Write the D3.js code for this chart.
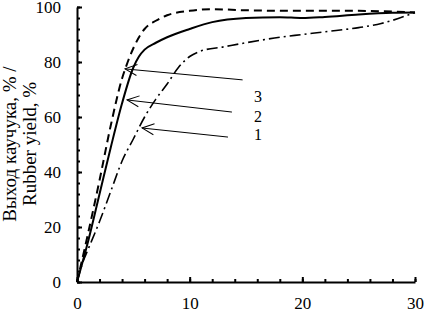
<!DOCTYPE html>
<meta charset="utf-8">
<head>
	<title>Rubber yield</title>
</head>

<style>

body{
	margin: 0;
	background: #fff;
}

svg{
	display: block;
}

</style>

<body>

<svg id="chart" width="424" height="312"></svg>

<script src="https://cdnjs.cloudflare.com/ajax/libs/d3/7.8.5/d3.min.js"></script>
<script>

// curve 3 (dashed)
var x3 = [0, 1, 2, 3, 4, 4.5, 5, 5.5, 6, 7, 8, 10, 12, 15, 20, 25, 30];
var y3 = [0, 18, 37, 57, 74, 80, 85, 89, 92, 95, 97, 98.6, 99.2, 98.8, 98.6, 98.6, 98];

// curve 2 (solid)
var x2 = [0, 1, 2, 3, 4, 5, 5.5, 6, 7, 8, 10, 12, 15, 18, 20, 22, 25, 28, 30];
var y2 = [0, 15, 32, 49, 65, 78, 82, 84.5, 87, 89, 92, 94.5, 96, 96.3, 96, 96.4, 97.3, 97.9, 98];

// curve 1 (dash-dot)
var x1 = [0, 0.5, 1, 2, 3, 4, 5, 6, 7, 8, 9, 10, 11, 13, 15, 18, 20, 22, 25, 27, 30];
var y1 = [0, 7, 12, 22, 33, 44, 52, 60, 66.5, 72, 78, 82, 84, 85.5, 87, 89, 90, 91, 92.5, 94, 98];

// callouts: label, arrow tail (x, y) and arrow head (x, y)
var calloutLabels = ['3', '2', '1'];
var tailX = [14.7, 13.75, 13.4];
var tailY = [73.5, 61.8, 52.7];
var headX = [4.26, 4.44, 5.77];
var headY = [77.5, 66.2, 56];
var labelY = [65.5, 58.2, 51.5];

var xMajor = [0, 10, 20, 30];
var xMinor = d3.range(0, 31, 2);
var yMajor = [0, 20, 40, 60, 80, 100];
var yMinor = d3.range(0, 101, 4);

var yTitle = ['Выход каучука, % /', 'Rubber yield, %'];

var FONT = 'Liberation Serif';

var svg = d3.select('#chart');

var x = d3.scaleLinear().domain([0, 30]).range([77, 415]);
var y = d3.scaleLinear().domain([0, 100]).range([282, 7]);

function styleAxis(g){
	g.attr('font-family', FONT).attr('font-size', 17);
	g.select('.domain').attr('stroke-width', 2);
	g.selectAll('line').attr('stroke-width', 2);
	g.selectAll('text').attr('fill', '#000');
}

// minor ticks
svg.append('g')
	.attr('transform', 'translate(0,282)')
	.call(d3.axisBottom(x).tickValues(xMinor).tickSizeInner(-3).tickSizeOuter(0).tickFormat(''))
	.call(function(g){ g.select('.domain').remove(); })
	.call(styleAxis);

svg.append('g')
	.attr('transform', 'translate(77,0)')
	.call(d3.axisLeft(y).tickValues(yMinor).tickSizeInner(-3).tickSizeOuter(0).tickFormat(''))
	.call(function(g){ g.select('.domain').remove(); })
	.call(styleAxis);

// major ticks + labels
svg.append('g')
	.attr('transform', 'translate(0,282)')
	.call(d3.axisBottom(x).tickValues(xMajor).tickSizeInner(-5).tickSizeOuter(0).tickPadding(15))
	.call(styleAxis);

svg.append('g')
	.attr('transform', 'translate(77,0)')
	.call(d3.axisLeft(y).tickValues(yMajor).tickSizeInner(-5).tickSizeOuter(0).tickPadding(16))
	.call(styleAxis);

// y title, two lines
svg.selectAll('.ytitle')
	.data(yTitle)
	.enter()
	.append('text')
	.attr('class', 'ytitle')
	.attr('transform', function(d, i){ return 'translate(' + (16 + i * 20) + ',144) rotate(-90)'; })
	.attr('text-anchor', 'middle')
	.attr('font-family', FONT)
	.attr('font-size', 19)
	.text(function(d){ return d; });

// curves
var line = d3.line()
	.x(function(d){ return x(d[0]); })
	.y(function(d){ return y(d[1]); })
	.curve(d3.curveMonotoneX);

svg.append('path')
	.attr('d', line(d3.zip(x1, y1)))
	.attr('fill', 'none')
	.attr('stroke', '#000')
	.attr('stroke-width', 1.6)
	.attr('stroke-dasharray', '11,4,2,4');

svg.append('path')
	.attr('d', line(d3.zip(x2, y2)))
	.attr('fill', 'none')
	.attr('stroke', '#000')
	.attr('stroke-width', 2);

svg.append('path')
	.attr('d', line(d3.zip(x3, y3)))
	.attr('fill', 'none')
	.attr('stroke', '#000')
	.attr('stroke-width', 2)
	.attr('stroke-dasharray', '8,5');

// arrows
svg.append('defs').append('marker')
	.attr('id', 'head')
	.attr('viewBox', '-13 -7 14 14')
	.attr('markerWidth', 14)
	.attr('markerHeight', 14)
	.attr('markerUnits', 'userSpaceOnUse')
	.attr('refX', 0)
	.attr('refY', 0)
	.attr('orient', 'auto')
	.append('path')
	.attr('d', 'M-12,-5.5L0,0L-12,5.5')
	.attr('fill', 'none')
	.attr('stroke', '#000')
	.attr('stroke-width', 1);

svg.selectAll('.callout')
	.data(calloutLabels)
	.enter()
	.append('line')
	.attr('class', 'callout')
	.attr('x1', function(d, i){ return x(tailX[i]); })
	.attr('y1', function(d, i){ return y(tailY[i]); })
	.attr('x2', function(d, i){ return x(headX[i]); })
	.attr('y2', function(d, i){ return y(headY[i]); })
	.attr('stroke', '#000')
	.attr('stroke-width', 1)
	.attr('marker-end', 'url(#head)');

svg.selectAll('.callout-label')
	.data(calloutLabels)
	.enter()
	.append('text')
	.attr('class', 'callout-label')
	.attr('x', x(16.06))
	.attr('y', function(d, i){ return y(labelY[i]); })
	.attr('text-anchor', 'middle')
	.attr('font-family', FONT)
	.attr('font-size', 16)
	.text(function(d){ return d; });

</script>

</body>
</html>
